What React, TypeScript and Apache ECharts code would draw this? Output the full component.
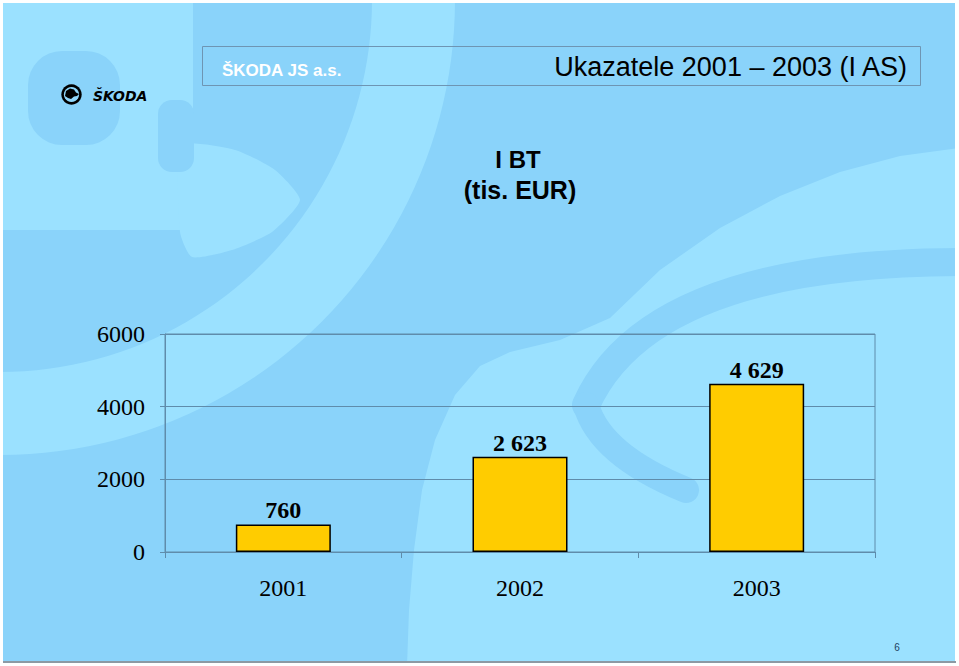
import React, { useEffect, useRef } from "react";
import * as echarts from "echarts";

const categories = ["2001", "2002", "2003"];
const values = [760, 2623, 4629];
const valueLabels = ["760", "2 623", "4 629"];
const yMin = 0;
const yMax = 6000;
const yStep = 2000;

const SANS = "'Liberation Sans', Arial, sans-serif";
const SERIF = "'Liberation Serif', 'Times New Roman', serif";

export default function App() {
  const ref = useRef<HTMLDivElement>(null);
  useEffect(() => {
    const chart = echarts.init(ref.current!, null, { renderer: "svg" });
    const MAIN = "#8AD3FA";
    const LIGHT = "#9BE1FF";
    const AXIS = "#5F8CAB";
    chart.setOption({
      animation: false,
      backgroundColor: "#ffffff",
      grid: {
        left: 165,
        top: 334,
        width: 710,
        height: 218,
        show: true,
        borderColor: AXIS,
        borderWidth: 1,
        backgroundColor: "transparent",
      },
      xAxis: {
        type: "category",
        data: categories,
        axisLine: { show: true, lineStyle: { color: AXIS, width: 1 } },
        axisTick: { show: true, length: 6, lineStyle: { color: AXIS } },
        axisLabel: { margin: 24, fontSize: 24, fontFamily: SERIF, color: "#000" },
        splitLine: { show: false },
      },
      yAxis: {
        type: "value",
        min: yMin,
        max: yMax,
        interval: yStep,
        axisLine: { show: true, lineStyle: { color: AXIS, width: 1 } },
        axisTick: { show: true, length: 5, lineStyle: { color: AXIS } },
        axisLabel: {
          margin: 20,
          fontSize: 24,
          fontFamily: SERIF,
          color: "#000",
          formatter: (v: number) => String(v),
        },
        splitLine: { show: true, lineStyle: { color: AXIS, width: 1 } },
      },
      series: [
        {
          type: "bar",
          data: values,
          barWidth: 95,
          itemStyle: { color: "#FFCC00", borderColor: "#000", borderWidth: 1.5 },
          label: {
            show: true,
            position: "top",
            distance: 2,
            formatter: (p: any) => valueLabels[p.dataIndex],
            fontFamily: SERIF,
            fontWeight: "bold",
            fontSize: 24,
            color: "#000",
          },
          z: 5,
        },
      ],
      graphic: {
        elements: [
          { type: "rect", z: -100, silent: true, shape: { x: 0, y: 0, width: 959, height: 666 }, style: { fill: MAIN } },
          {
            type: "polygon", z: -95, silent: true,
            shape: {
              points: [
                [959, 148], [900, 156], [840, 172], [780, 196], [720, 228], [660, 270], [610, 318],
                [560, 340], [510, 352], [480, 366], [455, 395], [435, 440], [422, 490], [414, 550],
                [409, 610], [407, 666], [959, 666],
              ],
            },
            style: { fill: LIGHT },
          },
          { type: "bezierCurve", z: -93, silent: true, shape: { x1: 965, y1: 262, cpx1: 650, cpy1: 262, x2: 586, y2: 405 }, style: { stroke: MAIN, lineWidth: 28, lineCap: "round", fill: "none" } },
          { type: "bezierCurve", z: -93, silent: true, shape: { x1: 586, y1: 405, cpx1: 600, cpy1: 455, x2: 686, y2: 490 }, style: { stroke: MAIN, lineWidth: 26, lineCap: "round", fill: "none" } },
          {
            type: "polygon", z: -92, silent: true,
            shape: { points: [[0, 0], [193, 0], [193, 150], [180, 230], [0, 230]] },
            style: { fill: LIGHT },
          },
          {
            type: "polygon", z: -91, silent: true,
            shape: { points: [[182, 146], [235, 150], [275, 170], [300, 200], [272, 232], [232, 250], [192, 257], [180, 232]], smooth: 0.2 },
            style: { fill: LIGHT },
          },
          { type: "rect", z: -90, silent: true, shape: { x: 158, y: 100, width: 36, height: 72, r: 14 }, style: { fill: MAIN } },
          { type: "rect", z: -90, silent: true, shape: { x: 28, y: 51, width: 92, height: 94, r: 34 }, style: { fill: MAIN } },
          { type: "ring", z: -89, silent: true, shape: { cx: 0, cy: 0, r0: 372, r: 455 }, style: { fill: LIGHT } },
          // page margins
          { type: "rect", z: -50, silent: true, shape: { x: 0, y: 0, width: 959, height: 3 }, style: { fill: "#ffffff" } },
          { type: "rect", z: -50, silent: true, shape: { x: 0, y: 0, width: 3, height: 666 }, style: { fill: "#ffffff" } },
          { type: "rect", z: -50, silent: true, shape: { x: 955, y: 0, width: 4, height: 666 }, style: { fill: "#ffffff" } },
          { type: "rect", z: -50, silent: true, shape: { x: 0, y: 662, width: 959, height: 4 }, style: { fill: "#ffffff" } },
          { type: "rect", z: -49, silent: true, shape: { x: 3, y: 661, width: 953, height: 2 }, style: { fill: "#8C9AA4" } },
          // header box
          { type: "rect", z: 10, silent: true, shape: { x: 202.5, y: 46.5, width: 718, height: 39 }, style: { fill: "transparent", stroke: "#6E95B3", lineWidth: 1 } },
          {
            type: "text", z: 11, silent: true,
            style: {
              x: 222, y: 70, text: "ŠKODA JS a.s.", fill: "#ffffff",
              font: `bold 17px ${SANS}`, verticalAlign: "middle",
              shadowColor: "rgba(60,60,60,0.8)", shadowOffsetX: 1, shadowOffsetY: 1, shadowBlur: 1,
            },
          },
          {
            type: "text", z: 11, silent: true,
            style: {
              x: 907, y: 67, text: "Ukazatele 2001 – 2003 (I AS)", fill: "#000",
              font: `27px ${SANS}`, align: "right", verticalAlign: "middle",
            },
          },
          {
            type: "text", z: 11, silent: true,
            style: { x: 518, y: 159, text: "I BT", fill: "#000", font: `bold 24px ${SANS}`, align: "center", verticalAlign: "middle" },
          },
          {
            type: "text", z: 11, silent: true,
            style: { x: 520, y: 190, text: "(tis. EUR)", fill: "#000", font: `bold 25px ${SANS}`, align: "center", verticalAlign: "middle" },
          },
          // logo
          { type: "circle", z: 11, silent: true, shape: { cx: 71.5, cy: 94.5, r: 10.2 }, style: { fill: "#000" } },
          { type: "circle", z: 12, silent: true, shape: { cx: 71.5, cy: 94.5, r: 7.6 }, style: { fill: "#8FD6FA" } },
          {
            type: "polygon", z: 13, silent: true,
            shape: { points: [[65, 96], [66, 91], [70, 88.5], [74, 89.5], [76, 92.5], [79, 94], [77, 96], [74, 96.5], [71, 99], [68, 98]] },
            style: { fill: "#000" },
          },
          {
            type: "text", z: 11, silent: true,
            style: { x: 93, y: 96, text: "ŠKODA", fill: "#000", font: `italic bold 14px 'DejaVu Sans', ${SANS}`, verticalAlign: "middle" },
          },
          {
            type: "text", z: 11, silent: true,
            style: { x: 897, y: 647, text: "6", fill: "#1F3F5F", font: `10px ${SANS}`, align: "center", verticalAlign: "middle" },
          },
        ],
      },
    });
    return () => chart.dispose();
  }, []);
  return <div ref={ref} style={{ position: "fixed", left: 0, top: 0, width: 959, height: 666 }} />;
}
